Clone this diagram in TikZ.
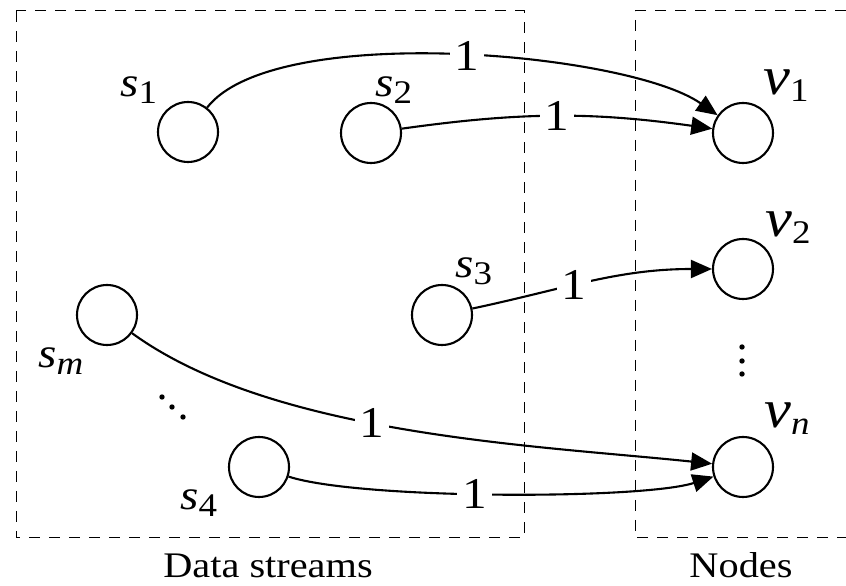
\documentclass[tikz,border=0pt]{standalone}
\usepackage{fontspec}
\setmainfont{Liberation Serif}[FakeStretch=1.12]
\usetikzlibrary{arrows.meta}
\newcommand{\fsz}[1]{\fontsize{#1}{#1}\selectfont}
% italic letter with a lowered subscript
\newcommand{\sublbl}[3]{{\fsz{#1}\textit{#2}}\raisebox{-7pt}{\fsz{33}#3}}
\begin{document}
\begin{tikzpicture}[x=1pt,y=1pt,
  vtx/.style={circle,draw,line width=2.1pt,minimum size=60pt,inner sep=0pt},
  link/.style={line width=2.1pt,-{Triangle[length=21pt,width=18pt]}},
  wt/.style={fill=white,inner xsep=5pt,inner ysep=0pt,font=\fsz{44}},
  frame/.style={line width=1pt,dash pattern=on 11pt off 9pt},
  tag/.style={anchor=base west,inner sep=0pt},
  caption/.style={anchor=base,inner sep=0pt,font=\fsz{36}},
  dot/.style={fill=black}]
\useasboundingbox (0,0) rectangle (846,586);

% group frames
\draw[frame] (16,575) rectangle (524,48);
\draw[frame] (846,575) -- (635,575) -- (635,48) -- (846,48);
\node[caption] (capL) at (268,8) {Data streams};
\node[caption] (capR) at (741,8) {Nodes};

% stream vertices
\node[vtx] (s1) at (188,454) {};
\node[vtx] (s2) at (371,453) {};
\node[vtx] (s3) at (442,271) {};
\node[vtx] (sm) at (107,271) {};
\node[vtx] (s4) at (259,119) {};
% node vertices
\node[vtx] (v1) at (743,453) {};
\node[vtx] (v2) at (743,317) {};
\node[vtx] (vn) at (743,119) {};

% vertex names
\node[tag] (ls1) at (120,489) {\sublbl{42}{s}{1}};
\node[tag] (ls2) at (375,489) {\sublbl{42}{s}{2}};
\node[tag] (ls3) at (455,308) {\sublbl{42}{s}{3}};
\node[tag] (lsm) at (38,218) {\sublbl{42}{s}{\textit{m}}};
\node[tag] (ls4) at (180,76) {\sublbl{42}{s}{4}};
\node[tag] (lv1) at (763,491) {\sublbl{54}{v}{1}};
\node[tag] (lv2) at (765,349) {\sublbl{54}{v}{2}};
\node[tag] (lvn) at (764,158) {\sublbl{54}{v}{\textit{n}}};

% ellipses
\fill[dot] (162,189) circle (2.7);
\fill[dot] (172,179) circle (2.7);
\fill[dot] (183,169) circle (2.7);
\fill[dot] (742,239) circle (2.7);
\fill[dot] (742,225) circle (2.7);
\fill[dot] (742,212) circle (2.7);

% weighted assignments
\draw[link] (s1) to[out=52,in=145,looseness=0.55] node[wt,pos=0.52] (w1) {1} (v1);
\draw[link] (s2) to[out=8,in=172] node[wt,pos=0.5] (w2) {1} (v1);
\draw[link] (s3) to[out=12,in=180] node[wt,pos=0.42] (w3) {1} (v2);
\draw[link] (sm) to[out=-36,in=174,looseness=0.75] node[wt,pos=0.44] (w4) {1} (vn);
\draw[link] (s4) to[out=-18,in=198,looseness=0.45] node[wt,pos=0.45] (w5) {1} (vn);
\end{tikzpicture}
\end{document}
